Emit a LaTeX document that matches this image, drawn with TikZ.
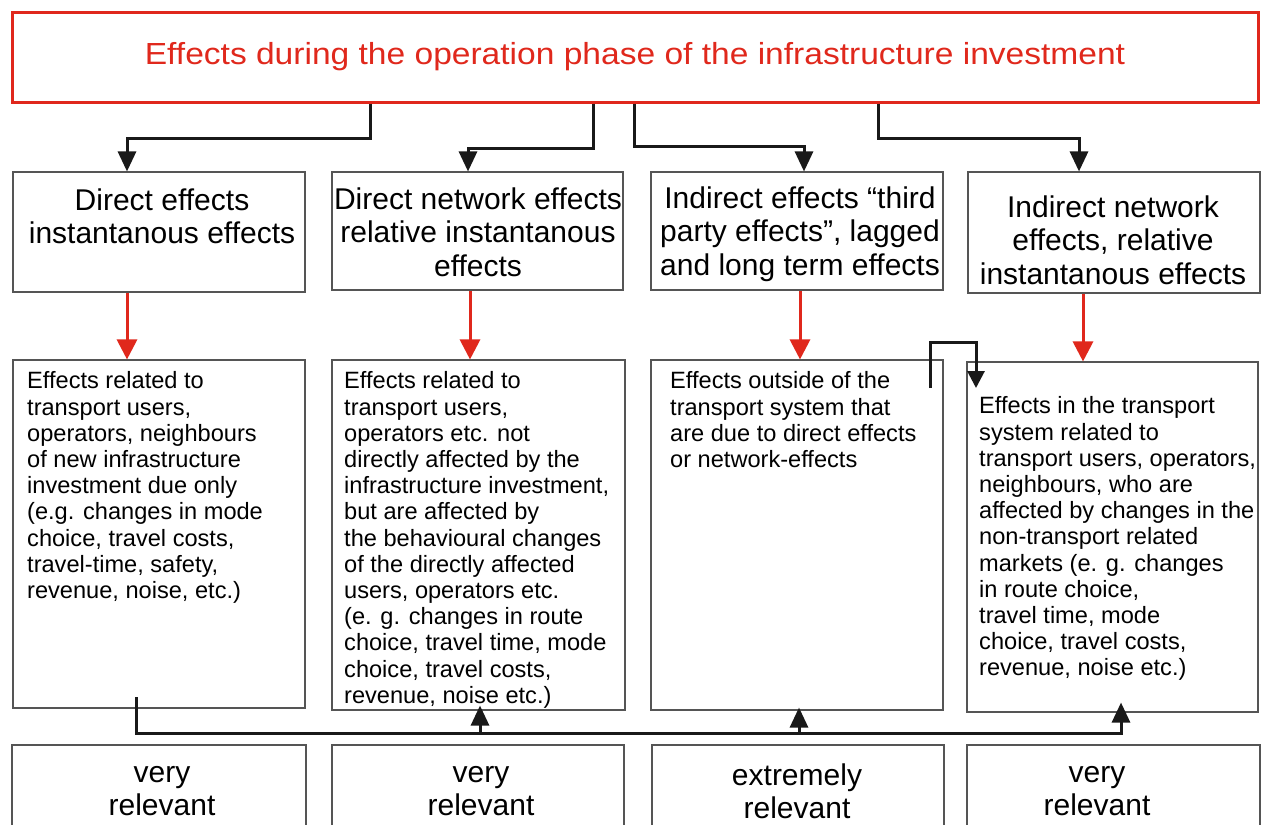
\documentclass[tikz,border=0pt]{standalone}
\usepackage{fontspec}
\setmainfont{Liberation Sans}
\newfontfamily\widefont[FakeStretch=1.1]{Liberation Sans}
\usetikzlibrary{arrows.meta}
\definecolor{myred}{HTML}{E0281C}
\definecolor{boxgray}{HTML}{555555}
\tikzset{
  titlebox/.style={draw=myred, line width=3pt, text=myred, inner sep=0pt, font=\widefont\fontsize{30.5}{34}\selectfont},
  box/.style={draw=boxgray, line width=1.1pt, inner sep=0pt},
  head/.style={align=center, inner sep=0pt, font=\fontsize{30}{33.5}\selectfont},
  body/.style={align=left, inner sep=0pt, anchor=north west, font=\fontsize{23.6}{26.2}\selectfont},
  rel/.style={align=center, inner sep=0pt, font=\fontsize{30}{33}\selectfont},
  conn/.style={line width=3pt, black!90, -{Triangle[width=18pt,length=20pt]}},
  rarr/.style={line width=3pt, myred, -{Triangle[width=20pt,length=20pt]}}
}
\begin{document}
\begin{tikzpicture}[x=1pt,y=-1pt]
\clip (0,0) rectangle (1262,825);
\fill[white] (0,0) rectangle (1262,825);
% title
\node[titlebox, minimum width=1246pt, minimum height=90pt] (title) at (635,57) {Effects during the operation phase of the infrastructure investment};
% row 1
\node[box, minimum width=292pt, minimum height=120pt] (h1) at (159,232) {};
\node[box, minimum width=291pt, minimum height=118pt] (h2) at (477.5,231) {};
\node[box, minimum width=292pt, minimum height=118pt] (h3) at (797,231) {};
\node[box, minimum width=292pt, minimum height=121pt] (h4) at (1114,232.5) {};
\node[head] (h1t) at (162,216.5) {Direct effects\\instantanous effects};
\node[head] (h2t) at (478,232) {Direct network effects\\relative instantanous\\effects};
\node[head] (h3t) at (800,234) {Indirect effects “third\\party effects”, lagged\\and long term effects};
\node[head] (h4t) at (1113,240) {Indirect network\\effects, relative\\instantanous effects};
% row 2
\node[box, minimum width=292pt, minimum height=348pt] (d1) at (159,534) {};
\node[box, minimum width=293pt, minimum height=350pt] (d2) at (478.5,535) {};
\node[box, minimum width=292pt, minimum height=350pt] (d3) at (797,535) {};
\node[box, minimum width=291pt, minimum height=350pt] (d4) at (1112.5,537) {};
\node[body] (d1t) at (27,371.5) {Effects related to\\transport users,\\operators, neighbours\\of new infrastructure\\investment due only\\(e.g. changes in mode\\choice, travel costs,\\travel-time, safety,\\revenue, noise, etc.)};
\node[body] (d2t) at (344,371.5) {Effects related to\\transport users,\\operators etc. not\\directly affected by the\\infrastructure investment,\\but are affected by\\the behavioural changes\\of the directly affected\\users, operators etc.\\(e. g. changes in route\\choice, travel time, mode\\choice, travel costs,\\revenue, noise etc.)};
\node[body] (d3t) at (670,371.5) {Effects outside of the\\transport system that\\are due to direct effects\\or network-effects};
\node[body] (d4t) at (979,396.5) {Effects in the transport\\system related to\\transport users, operators,\\neighbours, who are\\affected by changes in the\\non-transport related\\markets (e. g. changes\\in route choice,\\travel time, mode\\choice, travel costs,\\revenue, noise etc.)};
% row 3
\node[box, minimum width=294pt, minimum height=100pt] (r1) at (159,795) {};
\node[box, minimum width=292pt, minimum height=100pt] (r2) at (478,795) {};
\node[box, minimum width=292pt, minimum height=100pt] (r3) at (798,795) {};
\node[box, minimum width=293pt, minimum height=100pt] (r4) at (1113.5,795) {};
\node[rel] (r1t) at (162,791.5) {very\\relevant};
\node[rel] (r2t) at (481,791.5) {very\\relevant};
\node[rel] (r3t) at (797,791) {extremely\\relevant};
\node[rel] (r4t) at (1097,791.5) {very\\relevant};
% top connectors
\draw[conn] ([xshift=-265pt]title.south) -- ++(0,35) -| ([xshift=-32pt]h1.north);
\draw[conn] ([xshift=-42pt]title.south) -- ++(0,45) -| ([xshift=-9.5pt]h2.north);
\draw[conn] ([xshift=-1pt]title.south) -- ++(0,43) -| ([xshift=7pt]h3.north);
\draw[conn] ([xshift=243pt]title.south) -- ++(0,35) -| ([xshift=-35pt]h4.north);
% red arrows
\draw[rarr] ([xshift=-32pt]h1.south) -- ([xshift=-32pt]d1.north);
\draw[rarr] ([xshift=-7.5pt]h2.south) -- ([xshift=-8.5pt]d2.north);
\draw[rarr] ([xshift=3pt]h3.south) -- ([xshift=3pt]d3.north);
\draw[rarr] ([xshift=-31pt]h4.south) -- ([xshift=-29.5pt]d4.north);
% odd connector
\coordinate (o1) at (930,388);
\coordinate (o2) at (976,388);
\draw[line width=3pt, black!90, -{Triangle[width=17pt,length=17pt]}] (o1) -- ++(0,-46) -| (o2);
% bottom connector
\coordinate (b0) at (136,697);
\draw[conn] (b0) -- ++(0,36) -| ([xshift=8.5pt,yshift=10pt]d4.south);
\draw[conn] ([xshift=1.5pt,yshift=-23pt]d2.south) -- ([xshift=1.5pt,yshift=5pt]d2.south);
\draw[conn] ([xshift=2pt,yshift=-23pt]d3.south) -- ([xshift=2pt,yshift=3pt]d3.south);
\end{tikzpicture}
\end{document}
